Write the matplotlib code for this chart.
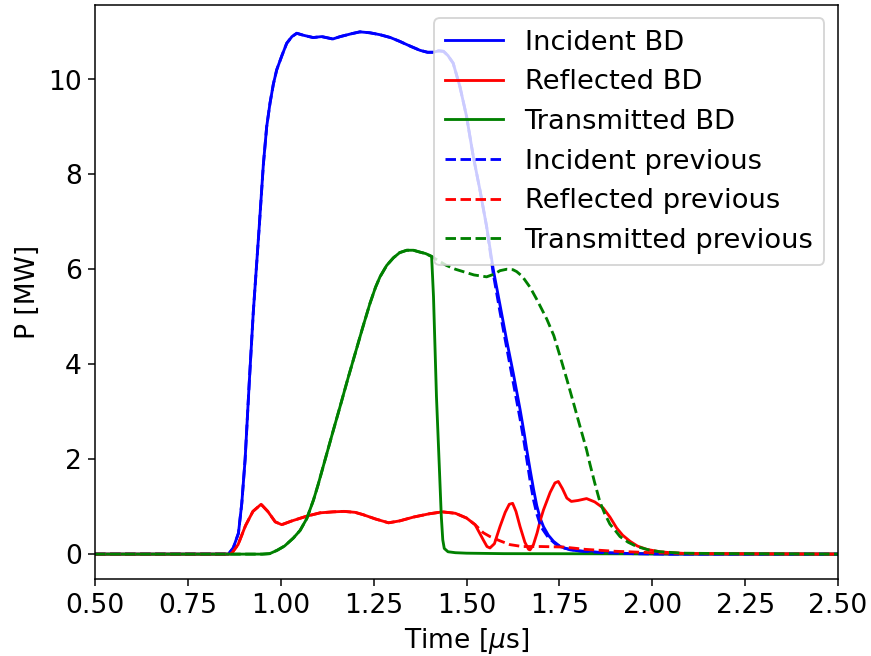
import matplotlib
matplotlib.use("Agg")
import matplotlib.pyplot as plt

# Time axis in microseconds, power in MW
inc_t = [0.50, 0.85, 0.859, 0.872, 0.886, 0.895, 0.904, 0.915, 0.926, 0.942,
         0.953, 0.962, 0.971, 0.980, 0.989, 1.003, 1.016, 1.030, 1.043, 1.060,
         1.087, 1.110, 1.140, 1.160, 1.190, 1.213, 1.240, 1.267, 1.295, 1.320,
         1.348, 1.375, 1.395, 1.410, 1.425, 1.438, 1.450, 1.464, 1.482, 1.500,
         1.518, 1.536, 1.554, 1.572, 1.590, 1.608, 1.626, 1.644, 1.655, 1.662,
         1.671, 1.680, 1.689, 1.698, 1.707, 1.720, 1.734, 1.752, 1.779, 1.820,
         1.867, 1.950, 2.050, 2.500]
inc_p = [0.0, 0.0, 0.0, 0.13, 0.44, 1.07, 2.00, 3.60, 5.10, 6.90,
         8.20, 9.00, 9.50, 9.90, 10.20, 10.50, 10.76, 10.90, 10.97, 10.93,
         10.88, 10.90, 10.85, 10.90, 10.96, 11.00, 10.98, 10.94, 10.88, 10.80,
         10.70, 10.61, 10.57, 10.57, 10.60, 10.59, 10.50, 10.34, 9.85, 9.22,
         8.38, 7.67, 6.90, 5.99, 5.25, 4.50, 3.80, 3.05, 2.55, 2.20,
         1.78, 1.38, 1.02, 0.76, 0.58, 0.40, 0.27, 0.16, 0.09, 0.05,
         0.03, 0.01, 0.0, 0.0]

refl_t = [0.50, 0.86, 0.868, 0.885, 0.905, 0.925, 0.947, 0.965, 0.985, 1.0025,
          1.030, 1.070, 1.106, 1.140, 1.170, 1.200, 1.222, 1.255, 1.290, 1.320,
          1.357, 1.400, 1.435, 1.470, 1.500, 1.523, 1.545, 1.555, 1.563, 1.575,
          1.590, 1.604, 1.615, 1.624, 1.633, 1.644, 1.657, 1.667, 1.671, 1.680,
          1.690, 1.698, 1.707, 1.725, 1.738, 1.747, 1.758, 1.770, 1.782, 1.800,
          1.823, 1.845, 1.868, 1.886, 1.904, 1.920, 1.940, 1.960, 1.985, 2.020,
          2.050, 2.100, 2.500]
refl_p = [0.0, 0.0, 0.02, 0.20, 0.60, 0.90, 1.05, 0.90, 0.68, 0.62,
          0.70, 0.80, 0.87, 0.89, 0.90, 0.88, 0.83, 0.74, 0.66, 0.70,
          0.78, 0.85, 0.89, 0.86, 0.76, 0.62, 0.30, 0.16, 0.13, 0.22,
          0.58, 0.88, 1.05, 1.07, 0.90, 0.58, 0.25, 0.10, 0.09, 0.20,
          0.45, 0.70, 0.93, 1.30, 1.50, 1.53, 1.38, 1.18, 1.11, 1.13,
          1.17, 1.10, 0.97, 0.78, 0.55, 0.40, 0.27, 0.17, 0.10, 0.05,
          0.03, 0.01, 0.0]

trans_t = [0.50, 0.95, 0.97, 0.99, 1.01, 1.034, 1.052, 1.070, 1.088, 1.100,
           1.110, 1.120, 1.140, 1.160, 1.180, 1.200, 1.220, 1.240, 1.255, 1.267,
           1.285, 1.303, 1.320, 1.339, 1.357, 1.375, 1.390, 1.406, 1.411, 1.419,
           1.427, 1.432, 1.436, 1.440, 1.450, 1.470, 1.500, 1.600, 2.500]
trans_p = [0.0, 0.0, 0.01, 0.08, 0.17, 0.34, 0.50, 0.75, 1.14, 1.45,
           1.73, 2.01, 2.57, 3.12, 3.68, 4.22, 4.76, 5.28, 5.62, 5.84,
           6.08, 6.24, 6.35, 6.40, 6.40, 6.36, 6.33, 6.27, 5.43, 3.32,
           1.78, 0.80, 0.30, 0.12, 0.05, 0.03, 0.02, 0.01, 0.0]

# previous pulses: identical to the BD shots until they split off
inc_prev_t = inc_t[:43] + [1.572, 1.590, 1.608, 1.626, 1.644, 1.655, 1.662,
                           1.671, 1.680, 1.689, 1.700, 1.720, 1.740, 1.760,
                           1.800, 1.870, 1.950, 2.050, 2.500]
inc_prev_p = inc_p[:43] + [5.90, 5.10, 4.35, 3.60, 2.85, 2.35, 2.00,
                           1.55, 1.15, 0.85, 0.58, 0.35, 0.21, 0.13,
                           0.07, 0.03, 0.01, 0.0, 0.0]

refl_prev_t = refl_t[:26] + [1.545, 1.563, 1.590, 1.617, 1.650, 1.700, 1.760,
                             1.820, 1.900, 2.000, 2.100, 2.500]
refl_prev_p = refl_p[:26] + [0.45, 0.37, 0.28, 0.20, 0.16, 0.16, 0.15,
                             0.10, 0.06, 0.03, 0.01, 0.0]

trans_prev_t = trans_t[:28] + [1.420, 1.446, 1.470, 1.491, 1.520, 1.554, 1.575,
                               1.590, 1.608, 1.625, 1.635, 1.650, 1.671, 1.690,
                               1.716, 1.735, 1.752, 1.770, 1.788, 1.805, 1.823,
                               1.832, 1.845, 1.859, 1.872, 1.886, 1.900, 1.913,
                               1.935, 1.958, 1.990, 2.021, 2.080, 2.200, 2.500]
trans_prev_p = trans_p[:28] + [6.20, 6.08, 6.00, 5.95, 5.88, 5.84, 5.90,
                               5.97, 6.00, 5.99, 5.95, 5.85, 5.62, 5.35,
                               4.95, 4.60, 4.16, 3.68, 3.18, 2.70, 2.20,
                               1.90, 1.50, 1.10, 0.85, 0.63, 0.50, 0.37,
                               0.25, 0.16, 0.09, 0.05, 0.02, 0.01, 0.0]

plt.rcParams["font.size"] = 14

fig = plt.figure(figsize=(6.405, 4.825), dpi=136)
ax = fig.add_axes([0.1091, 0.1169, 0.8530, 0.8755])

ax.plot(inc_t, inc_p, color="blue", label="Incident BD")
ax.plot(refl_t, refl_p, color="red", label="Reflected BD")
ax.plot(trans_t, trans_p, color="green", label="Transmitted BD")
ax.plot(inc_prev_t, inc_prev_p, color="blue", ls="--", label="Incident previous")
ax.plot(refl_prev_t, refl_prev_p, color="red", ls="--", label="Reflected previous")
ax.plot(trans_prev_t, trans_prev_p, color="green", ls="--",
        label="Transmitted previous")

ax.set_xlim(0.5, 2.5)
ax.set_ylim(-0.53, 11.57)
ax.set_xticks([0.5, 0.75, 1.0, 1.25, 1.5, 1.75, 2.0, 2.25, 2.5])
ax.set_yticks([0, 2, 4, 6, 8, 10])
ax.set_xlabel(r"Time [$\mu$s]")
ax.set_ylabel("P [MW]")
ax.legend(loc="upper right", fontsize=14.5, handlelength=2.1)

fig.savefig("out.png", dpi=136)
